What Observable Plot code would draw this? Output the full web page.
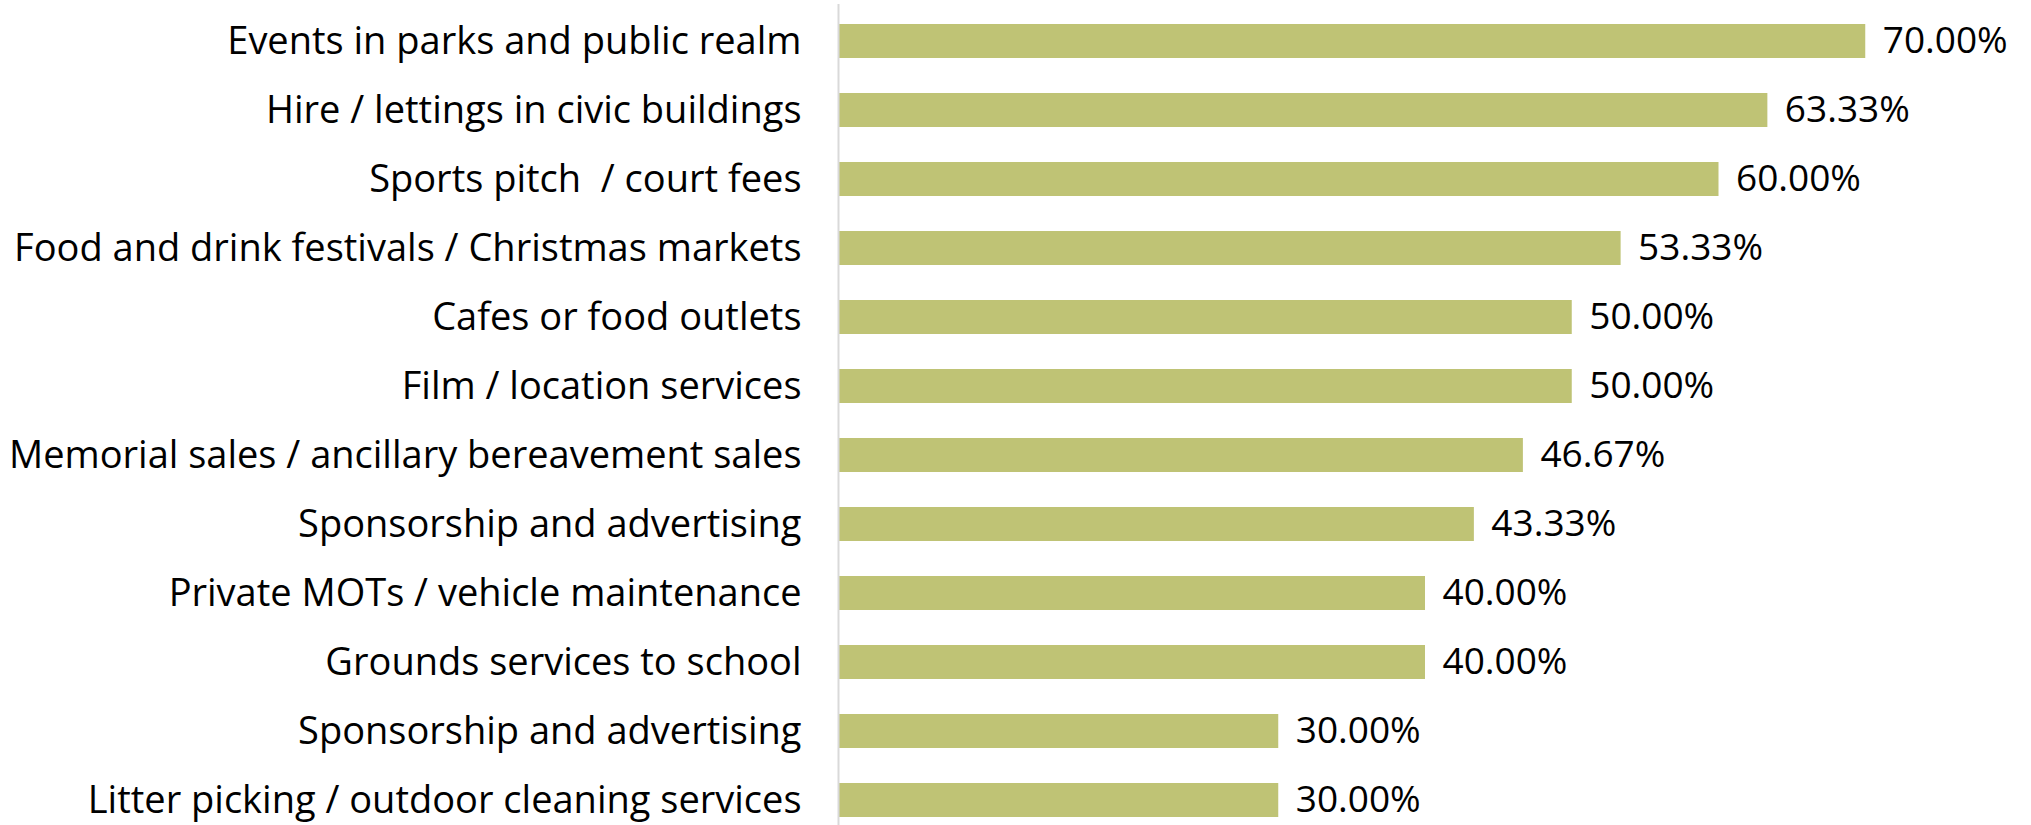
<!DOCTYPE html>
<html>
<head>
<meta charset="utf-8">
<script src="https://cdn.jsdelivr.net/npm/d3@7"></script>
<script src="https://cdn.jsdelivr.net/npm/@observablehq/plot@0.6"></script>
<style>
  html, body { margin: 0; padding: 0; background: #fff; }
  #chart svg { display: block; }
</style>
</head>
<body>
<div id="chart"></div>
<script>
const categories = [
  "Events in parks and public realm",
  "Hire / lettings in civic buildings",
  "Sports pitch  / court fees",
  "Food and drink festivals / Christmas markets",
  "Cafes or food outlets",
  "Film / location services",
  "Memorial sales / ancillary bereavement sales",
  "Sponsorship and advertising",
  "Private MOTs / vehicle maintenance",
  "Grounds services to school",
  "Sponsorship and advertising",
  "Litter picking / outdoor cleaning services"
];
const values = [0.70, 0.6333, 0.60, 0.5333, 0.50, 0.50, 0.4667, 0.4333, 0.40, 0.40, 0.30, 0.30];
const valueLabels = ["70.00%", "63.33%", "60.00%", "53.33%", "50.00%", "50.00%", "46.67%", "43.33%", "40.00%", "40.00%", "30.00%", "30.00%"];

const data = categories.map((c, i) => ({idx: i, category: c, value: values[i], label: valueLabels[i]}));

const font = "'Open Sans', 'Noto Sans', sans-serif";

const chart = Plot.plot({
  width: 2031,
  height: 825,
  marginLeft: 838,
  marginRight: 19,
  marginTop: 21,
  marginBottom: 5,
  style: {fontFamily: font, fontSize: "38px", color: "#000", background: "#fff"},
  x: {domain: [0, 0.8], axis: null},
  y: {domain: d3.range(categories.length), paddingInner: 0.51, paddingOuter: 0, label: null, tickSize: 0, tickPadding: 37, tickFormat: i => categories[i]},
  marks: [
    Plot.barX(data, {y: "idx", x: "value", fill: "#bfc375"}),
    Plot.ruleX([0], {stroke: "#d9d9d9", strokeWidth: 2, insetTop: -17, insetBottom: -5}),
    Plot.text(data, {y: "idx", x: "value", text: "label", textAnchor: "start", dx: 17, fill: "#000", fontSize: 37})
  ]
});
chart.querySelectorAll("[aria-label='y-axis tick label'] text").forEach(t => t.setAttribute("fill", "#000"));
document.getElementById("chart").appendChild(chart);
</script>
</body>
</html>
